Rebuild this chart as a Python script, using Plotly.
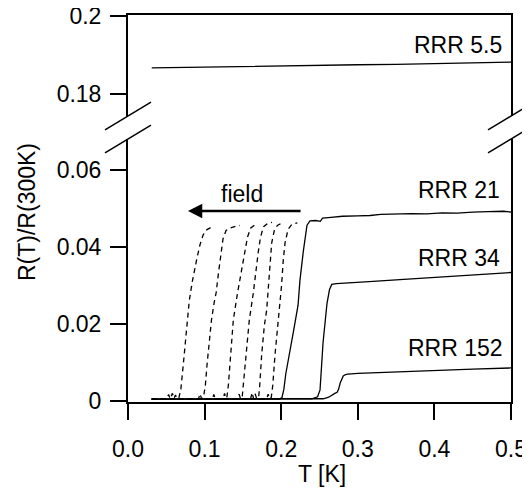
import plotly.graph_objects as go

# ---------------- data ----------------
# RRR 5.5 (upper panel)
T_rrr55 = [0.031, 0.06, 0.10, 0.15, 0.20, 0.26, 0.30, 0.35, 0.40, 0.45, 0.50]
R_rrr55 = [0.1867, 0.1868, 0.1868, 0.1870, 0.1871, 0.1873, 0.1875, 0.1876, 0.1878, 0.1880, 0.1882]

# RRR 21, zero field (solid)
T_rrr21 = [0.031, 0.06, 0.10, 0.15, 0.198, 0.201, 0.2035, 0.206, 0.2085, 0.2106, 0.2165,
           0.222, 0.2245, 0.229, 0.2337, 0.2376, 0.245, 0.251, 0.254, 0.265, 0.28, 0.30,
           0.316, 0.33, 0.35, 0.37, 0.39, 0.41, 0.43, 0.45, 0.47, 0.49, 0.50]
R_rrr21 = [0.0004, 0.0004, 0.0004, 0.0004, 0.0004, 0.0008, 0.003, 0.007, 0.0095, 0.0119, 0.0185,
           0.0248, 0.0313, 0.039, 0.0456, 0.0467, 0.0468, 0.0466, 0.0474, 0.0476, 0.0479, 0.0480,
           0.0481, 0.0484, 0.0485, 0.0486, 0.0485, 0.0488, 0.0487, 0.0490, 0.0491, 0.0492, 0.0490]

# RRR 21 in increasing magnetic field (dashed)
T_f1 = [0.031, 0.050, 0.053, 0.055, 0.058, 0.060, 0.062, 0.064, 0.0665, 0.069, 0.072, 0.0745,
        0.077, 0.080, 0.084, 0.0875, 0.090, 0.094, 0.098, 0.102, 0.106, 0.110]
R_f1 = [0.0004, 0.0004, 0.0016, 0.0005, 0.0019, 0.0006, 0.0015, 0.0005, 0.0008, 0.003, 0.009, 0.015,
        0.021, 0.026, 0.031, 0.035, 0.037, 0.0405, 0.043, 0.0443, 0.0447, 0.0452]

T_f2 = [0.031, 0.092, 0.094, 0.096, 0.0985, 0.101, 0.103, 0.105, 0.109, 0.1125, 0.115, 0.118,
        0.121, 0.124, 0.128, 0.133, 0.139, 0.146]
R_f2 = [0.0004, 0.0004, 0.0018, 0.0005, 0.0008, 0.004, 0.009, 0.0135, 0.021, 0.0255, 0.028, 0.033,
        0.038, 0.042, 0.0442, 0.0448, 0.0452, 0.0455]

T_f3 = [0.031, 0.110, 0.112, 0.114, 0.124, 0.126, 0.128, 0.129, 0.131, 0.134, 0.1375, 0.143,
        0.148, 0.1527, 0.156, 0.160, 0.164, 0.168]
R_f3 = [0.0004, 0.0004, 0.0016, 0.0005, 0.0004, 0.0019, 0.0006, 0.0008, 0.004, 0.0132, 0.021, 0.028,
        0.034, 0.039, 0.0425, 0.0448, 0.0455, 0.046]

T_f4 = [0.031, 0.143, 0.145, 0.147, 0.149, 0.151, 0.155, 0.1584, 0.1636, 0.167, 0.170, 0.173,
        0.177, 0.182, 0.188]
R_f4 = [0.0004, 0.0004, 0.0017, 0.0005, 0.0008, 0.005, 0.0132, 0.021, 0.028, 0.034, 0.0385, 0.0425,
        0.0452, 0.046, 0.0463]

T_f5 = [0.031, 0.160, 0.162, 0.164, 0.166, 0.168, 0.1705, 0.172, 0.1745, 0.178, 0.181, 0.1835,
        0.1854, 0.1876, 0.191, 0.195, 0.201]
R_f5 = [0.0004, 0.0004, 0.0021, 0.0005, 0.0018, 0.0005, 0.0008, 0.004, 0.012, 0.0195, 0.0235, 0.031,
        0.0365, 0.041, 0.0442, 0.0455, 0.0462]

T_f6 = [0.031, 0.181, 0.183, 0.185, 0.187, 0.189, 0.1919, 0.195, 0.198, 0.2005, 0.2027, 0.205,
        0.209, 0.214, 0.221]
R_f6 = [0.0004, 0.0004, 0.0017, 0.0005, 0.0008, 0.004, 0.0119, 0.018, 0.0235, 0.030, 0.0365, 0.041,
        0.0445, 0.0458, 0.0462]

# RRR 34 (solid)
T_rrr34 = [0.031, 0.10, 0.20, 0.240, 0.2475, 0.2507, 0.2546, 0.2598, 0.263, 0.266, 0.272, 0.283,
           0.32, 0.36, 0.40, 0.44, 0.48, 0.50]
R_rrr34 = [0.0004, 0.0004, 0.0004, 0.0005, 0.0010, 0.0028, 0.0150, 0.0253, 0.0288, 0.0302, 0.0304,
           0.0305, 0.0310, 0.0315, 0.0320, 0.0325, 0.0330, 0.0333]

# RRR 152 (solid)
T_rrr152 = [0.031, 0.10, 0.20, 0.255, 0.262, 0.266, 0.270, 0.273, 0.275, 0.277, 0.281, 0.284,
            0.287, 0.30, 0.35, 0.40, 0.45, 0.50]
R_rrr152 = [0.0004, 0.0004, 0.0004, 0.0005, 0.0009, 0.0015, 0.0019, 0.0022, 0.0030, 0.0046, 0.0064,
            0.0068, 0.0069, 0.0071, 0.0075, 0.0079, 0.0082, 0.0085]

# ticks
x_tick_vals = [0.0, 0.1, 0.2, 0.3, 0.4, 0.5]
x_tick_text = ["0.0", "0.1", "0.2", "0.3", "0.4", "0.5"]
y_low_tick_vals = [0.0, 0.02, 0.04, 0.06]
y_low_tick_text = ["0", "0.02", "0.04", "0.06"]
y_up_tick_vals = [0.18, 0.2]
y_up_tick_text = ["0.18", "0.2"]

# labels
curve_labels = ["RRR 5.5", "RRR 21", "RRR 34", "RRR 152"]

# ---------------- figure ----------------
FONT = "Liberation Sans, Arial, Helvetica, sans-serif"
OFF = 8                      # default page (body) margin of the html page
W, H = 530 - OFF, 491 - OFF
PLOT_X0, PLOT_X1 = 128, 511   # target page pixels of plot area
PLOT_Y0, PLOT_Y1 = 15, 402
L = PLOT_X0 - OFF
T = PLOT_Y0 - OFF
PW = PLOT_X1 - PLOT_X0
PH = PLOT_Y1 - PLOT_Y0
R = W - L - PW
B = H - T - PH


def px_to_paper(px, py):
    """page pixel -> paper coordinates"""
    return (px - PLOT_X0) / PW, (PLOT_Y1 - py) / PH


upper_bottom_px = 116
lower_top_px = 139
up_dom = [px_to_paper(0, upper_bottom_px)[1], 1.0]
low_dom = [0.0, px_to_paper(0, lower_top_px)[1]]

fig = go.Figure()

solid = dict(color="black", width=1.3)
dashed = dict(color="black", width=1.3, dash="5px,4px")

for tx, ry in [(T_f1, R_f1), (T_f2, R_f2), (T_f3, R_f3), (T_f4, R_f4), (T_f5, R_f5), (T_f6, R_f6)]:
    fig.add_trace(go.Scatter(x=tx, y=ry, mode="lines", line=dashed, xaxis="x", yaxis="y",
                             hoverinfo="skip"))

for tx, ry in [(T_rrr21, R_rrr21), (T_rrr34, R_rrr34), (T_rrr152, R_rrr152)]:
    fig.add_trace(go.Scatter(x=tx, y=ry, mode="lines", line=solid, xaxis="x", yaxis="y"))

fig.add_trace(go.Scatter(x=T_rrr55, y=R_rrr55, mode="lines", line=solid, xaxis="x2", yaxis="y2"))

axis_common = dict(showline=True, linewidth=2, linecolor="black", showgrid=False, zeroline=False,
                   automargin=False, ticklabeloverflow="allow",
                   tickfont=dict(family=FONT, size=23, color="black"))

fig.update_layout(
    width=W, height=H,
    margin=dict(l=L, r=R, t=T, b=B, autoexpand=False),
    paper_bgcolor="white", plot_bgcolor="white",
    showlegend=False,
    font=dict(family=FONT, size=23, color="black"),
    xaxis=dict(domain=[0, 1], range=[0, 0.5], anchor="y", ticks="outside", ticklen=16, tickwidth=2,
               tickcolor="black", tickvals=x_tick_vals, ticktext=x_tick_text, ticklabelstandoff=9,
               **axis_common),
    yaxis=dict(domain=low_dom, range=[-0.00034, 0.06797], anchor="x", mirror=True, ticks="outside",
               ticklen=16, tickwidth=2, tickcolor="black", tickvals=y_low_tick_vals,
               ticktext=y_low_tick_text, ticklabelstandoff=4, **axis_common),
    xaxis2=dict(domain=[0, 1], range=[0, 0.5], anchor="y2", side="top", ticks="",
                showticklabels=False, **axis_common),
    yaxis2=dict(domain=up_dom, range=[0.17436, 0.20026], anchor="x2", mirror=True, ticks="outside",
                ticklen=16, tickwidth=2, tickcolor="black", tickvals=y_up_tick_vals,
                ticktext=y_up_tick_text, ticklabelstandoff=4, **axis_common),
)

# curve labels
fig.add_annotation(x=0.4909, y=0.19256, xref="x2", yref="y2", text=curve_labels[0], showarrow=False,
                   xanchor="right", yanchor="middle")
fig.add_annotation(x=0.4883, y=0.05473, xref="x", yref="y", text=curve_labels[1], showarrow=False,
                   xanchor="right", yanchor="middle")
fig.add_annotation(x=0.4883, y=0.03706, xref="x", yref="y", text=curve_labels[2], showarrow=False,
                   xanchor="right", yanchor="middle")
fig.add_annotation(x=0.4922, y=0.01377, xref="x", yref="y", text=curve_labels[3], showarrow=False,
                   xanchor="right", yanchor="middle")

# field arrow
fig.add_annotation(x=0.1488, y=0.0537, xref="x", yref="y", text="field", showarrow=False,
                   xanchor="center", yanchor="middle")
fig.add_annotation(x=0.0783, y=0.04927, ax=0.2272, ay=0.04927, xref="x", yref="y", axref="x",
                   ayref="y", text="", showarrow=True, arrowhead=2, arrowsize=1.1, arrowwidth=2.6,
                   arrowcolor="black")

# axis titles
tx, ty = px_to_paper(27, 212)
fig.add_annotation(x=tx, y=ty, xref="paper", yref="paper", text="R(T)/R(300K)", textangle=-90,
                   showarrow=False, xanchor="center", yanchor="middle")
tx, ty = px_to_paper(322, 474)
fig.add_annotation(x=tx, y=ty, xref="paper", yref="paper", text="T [K]", showarrow=False,
                   xanchor="center", yanchor="middle")

# axis-break marks
for ax_px in (PLOT_X0, PLOT_X1):
    for cy in (upper_bottom_px, lower_top_px):
        x0, y0 = px_to_paper(ax_px - 23, cy + 13.8)
        x1, y1 = px_to_paper(ax_px + 23, cy - 13.8)
        fig.add_shape(type="line", xref="paper", yref="paper", x0=x0, y0=y0, x1=x1, y1=y1,
                      line=dict(color="black", width=1.5), layer="above")

fig.write_html("out.html")
